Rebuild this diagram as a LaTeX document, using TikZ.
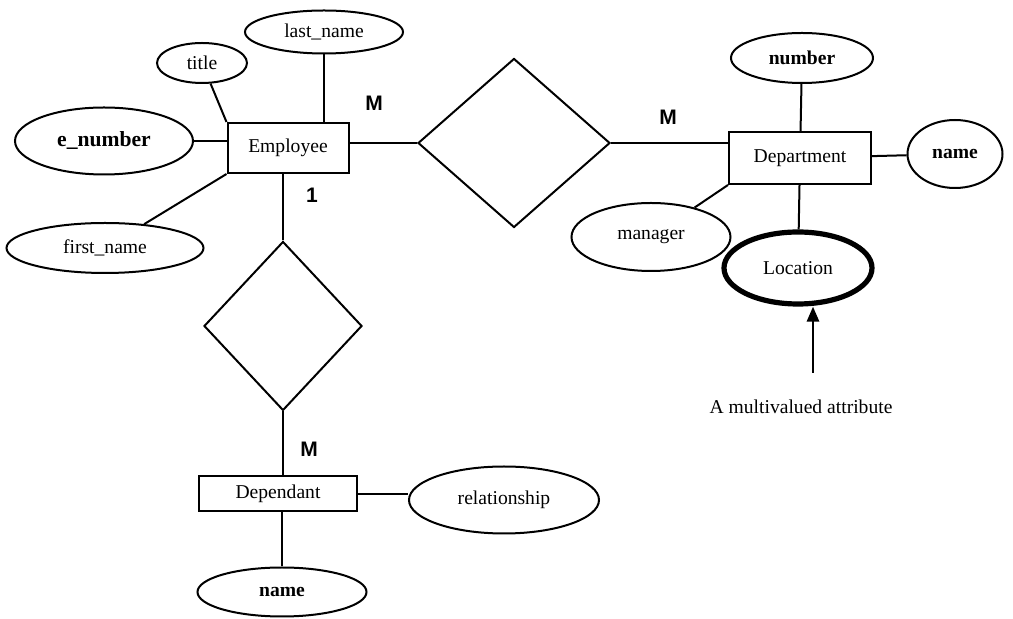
\documentclass[tikz,border=0pt]{standalone}
\usepackage{fontspec}
\setmainfont{Liberation Serif}
\newfontfamily\cardfont{Liberation Sans}
\usepackage{tikz}
\usetikzlibrary{arrows.meta, positioning, calc, shapes.geometric}

\begin{document}
\begin{tikzpicture}[
    x=0.5pt, y=-0.5pt,
    entity/.style={draw, line width=1pt, inner sep=0pt,
                   minimum width=#1, minimum height=25pt,
                   font=\fontsize{9.8}{11}\selectfont},
    attrib/.style={draw, ellipse, line width=1pt, inner sep=0pt,
                   font=\fontsize{9.8}{11}\selectfont},
    relship/.style={draw, diamond, line width=1pt, inner sep=0pt},
    cardlab/.style={font=\cardfont\bfseries\fontsize{10.5}{12}\selectfont},
    link/.style={line width=1pt},
    arr/.style={-{Triangle[length=7.5pt, width=6pt]}, line width=1.4pt}
  ]
    \useasboundingbox (0,0) rectangle (1013,619);

    % Employee and its attributes
    \node[entity=60.5pt] (employee) at (288,148) {Employee};
    \node[attrib, minimum width=79pt, minimum height=21.5pt] (lastname) at (324,32) {last\_name};
    \node[attrib, minimum width=45pt, minimum height=20pt] (title) at (202,63) {title};
    \node[attrib, minimum width=89pt, minimum height=33.5pt,
          font=\fontsize{10.8}{12}\selectfont\bfseries] (enumber) at (104,141) {e\_number};
    \node[attrib, minimum width=98.5pt, minimum height=25pt] (firstname) at (105,248) {first\_name};

    % relationship between Employee and Department
    \node[relship, minimum width=96pt, minimum height=84.5pt] (works) at (514,143) {};

    % Department and its attributes
    \node[entity=71pt, minimum height=26pt] (department) at (800,158) {Department};
    \node[attrib, minimum width=71pt, minimum height=25pt,
          font=\fontsize{9.8}{11}\selectfont\bfseries] (number) at (802,58) {number};
    \node[attrib, minimum width=47.5pt, minimum height=34pt,
          font=\fontsize{9.8}{11}\selectfont\bfseries] (dname) at (955,154) {name};
    \node[attrib, minimum width=79.5pt, minimum height=34pt] (manager) at (651,237) {manager};
    \node[attrib, line width=2.6pt, minimum width=74pt, minimum height=36pt] (location) at (798,268) {Location};
    \coordinate (arrtail) at (813,373);
    \node[font=\fontsize{9.8}{11}\selectfont] (multinote) at (801,407) {A multivalued attribute};

    % relationship between Employee and Dependant
    \node[relship, minimum width=79pt, minimum height=84.5pt] (has) at (283,326) {};

    % Dependant and its attributes
    \node[entity=79pt, minimum height=17.5pt] (dependant) at (278,494) {Dependant};
    \node[attrib, minimum width=95pt, minimum height=33.5pt] (relation) at (504,500) {relationship};
    \node[attrib, minimum width=84.5pt, minimum height=24.5pt,
          font=\fontsize{9.8}{11}\selectfont\bfseries] (depname) at (282,592) {name};

    % cardinalities
    \node[cardlab] (cardA) at (374,103) {M};
    \node[cardlab] (cardB) at (668,117) {M};
    \node[cardlab] (cardC) at (312,195) {1};
    \node[cardlab] (cardD) at (309,449) {M};

    % connectors
    \draw[link] (title) -- (employee.north west);
    \draw[link] (lastname.south) -- (lastname.south |- employee.north);
    \draw[link] (enumber) -- (enumber -| employee.west);
    \draw[link] (firstname) -- (employee.south west);
    \draw[link] (works.west -| employee.east) -- (works.west);
    \draw[link] (works.east) -- (works.east -| department.west);
    \draw[link] (number) -- (department);
    \draw[link] (department) -- (dname);
    \draw[link] (department.south west) -- (manager);
    \draw[link] (department) -- (location);
    \draw[arr] (arrtail) -- (arrtail |- location.south);
    \draw[link] (employee.south -| has.north) -- (has.north);
    \draw[link] (has.south) -- (dependant.north -| has.south);
    \draw[link] (dependant.east) -- (dependant.east -| relation.west);
    \draw[link] (dependant.south -| depname.north) -- (depname);
  \end{tikzpicture}
\end{document}
